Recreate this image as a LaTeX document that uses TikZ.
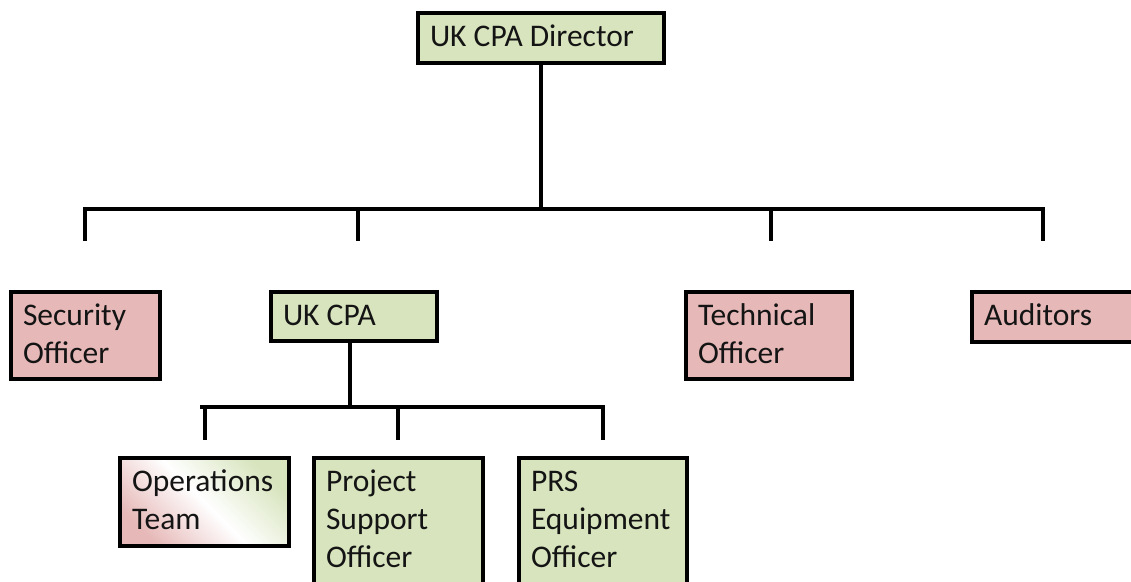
\documentclass[tikz,border=0pt]{standalone}
\usepackage{fontspec}
\setmainfont{Carlito}
\definecolor{boxgreen}{HTML}{D7E4BD}
\definecolor{boxpink}{HTML}{E6B9B8}
\definecolor{ink}{HTML}{141414}
% Fixed-size cell: width, height, text (first baseline 33pt below the top)
\newcommand\celltext[3]{\vbox to #2pt{\hsize=#1pt\parindent=0pt\leftskip=12pt
  \rightskip=0pt plus 1fil\hbadness=10000\fontsize{31.5}{38}\selectfont
  \baselineskip=38pt\lineskiplimit=-1000pt
  \vskip 5pt\noindent\rule{0pt}{28pt}#3\par\vfil}}
\begin{document}
\begin{tikzpicture}[x=1pt,y=-1pt,
  box/.style={draw=black, line width=3.5pt, inner sep=0pt, outer sep=0pt, anchor=north west, text=ink},
  green box/.style={box, fill=boxgreen},
  pink box/.style={box, fill=boxpink},
  mixed box/.style={box, top color=boxgreen, bottom color=boxpink, middle color=white, shading angle=-45},
  conn/.style={draw=black, line width=3.5pt}]
\useasboundingbox (0,0) rectangle (1131,581);
\clip (0,0) rectangle (1131,581);
\fill[white] (0,0) rectangle (1131,581);

% Boxes
\node[green box] (dir)  at (418,13)  {\celltext{246}{50}{UK CPA Director}};
\node[pink box]  (sec)  at (11,292)  {\celltext{149}{87}{Security\\Officer}};
\node[green box] (ukcpa) at (271,292) {\celltext{166}{49}{UK CPA}};
\node[pink box]  (tech) at (686,292) {\celltext{166}{87}{Technical\\Officer}};
\node[pink box]  (aud)  at (972,292) {\celltext{180}{50}{Auditors}};
\node[mixed box] (ops)  at (120,458) {\celltext{169}{88}{Operations\\Team}};
\node[green box] (pso)  at (314,458) {\celltext{169}{140}{Project\\Support\\Officer}};
\node[green box] (prs)  at (519,458) {\celltext{168}{140}{PRS\\Equipment\\Officer}};

% Top-level bus
\coordinate (busC)    at (541,209);
\coordinate (busL)    at (85,209);
\coordinate (busR)    at (1043,209);
\coordinate (busUK)   at (358,209);
\coordinate (busTech) at (771,209);
\coordinate (dropSec)  at (85,241);
\coordinate (dropUK)   at (358,241);
\coordinate (dropTech) at (771,241);
\coordinate (dropAud)  at (1043,241);
\draw[conn] (dir.south) -- (busC);
\draw[conn] (dropSec) -- (busL) -- (busR) -- (dropAud);
\draw[conn] (busUK) -- (dropUK);
\draw[conn] (busTech) -- (dropTech);

% UK CPA bus
\coordinate (subC)   at (350,407);
\coordinate (subL)   at (200,407);
\coordinate (subR)   at (603,407);
\coordinate (subOps) at (205,407);
\coordinate (subPso) at (398,407);
\coordinate (dropOps) at (205,440);
\coordinate (dropPso) at (398,440);
\coordinate (dropPrs) at (603,440);
\draw[conn] (ukcpa.south -| subC) -- (subC);
\draw[conn] (subL) -- (subR) -- (dropPrs);
\draw[conn] (subOps) -- (dropOps);
\draw[conn] (subPso) -- (dropPso);
\end{tikzpicture}
\end{document}
